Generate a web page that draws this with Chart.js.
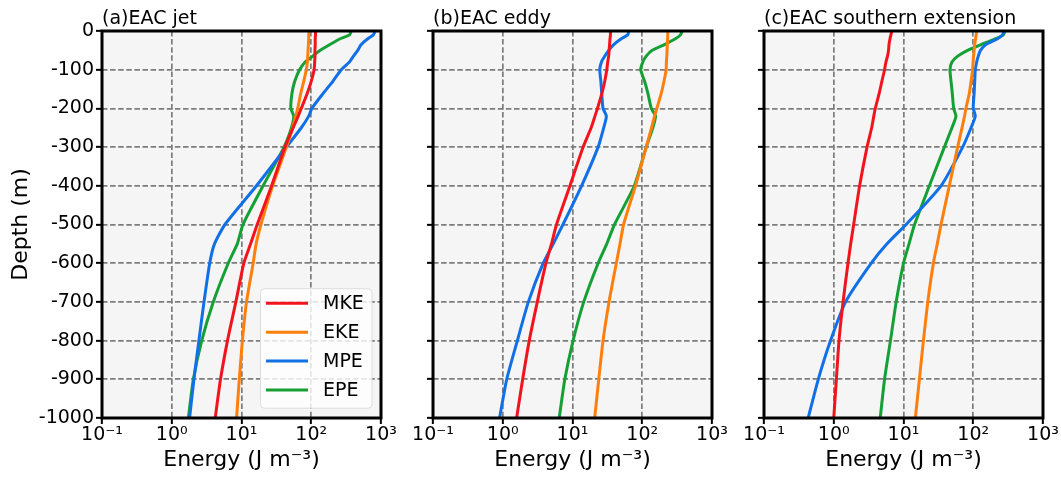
<!DOCTYPE html>
<html>
<head>
<meta charset="utf-8">
<script src="https://cdn.jsdelivr.net/npm/chart.js@4/dist/chart.umd.min.js"></script>
<style>
  body { margin: 0; background: #fff; }
  #wrap { position: relative; width: 1061px; height: 480px; }
  #wrap canvas { position: absolute; left: 0; top: 0; }
</style>
</head>
<body>
<div id="wrap">
  <canvas id="jetChart" width="1061" height="480"></canvas>
  <canvas id="eddyChart" width="1061" height="480"></canvas>
  <canvas id="extChart" width="1061" height="480"></canvas>
</div>
<script>
// Depth levels (m) shared by every profile
const depth = [0, -10, -20, -35, -50, -65, -80, -100, -130, -160, -200, -220, -250, -300, -400, -500, -550, -600, -700, -800, -900, -1000];

// (a) EAC jet
const jetMKE = [115, 115, 114, 114, 113, 113, 112, 110, 100, 88, 72, 65, 55, 42, 27, 16.8, 13.5, 10.8, 8.3, 6.3, 5.0, 4.2];
const jetEKE = [93, 92, 92, 91, 90, 89, 88, 85, 78, 71, 64, 60, 54, 44, 28, 19, 16.2, 14.7, 11.8, 10.3, 9.3, 8.5];
const jetMPE = [830, 776, 646, 520, 464, 403, 353, 269, 204, 150, 102, 92, 72, 44, 16.4, 5.8, 4.1, 3.5, 2.9, 2.45, 2.08, 1.8];
const jetEPE = [372, 355, 260, 185, 135, 105, 82, 68, 58, 53, 51, 56, 52, 40.7, 20.4, 10.5, 8.7, 6.45, 3.94, 2.69, 2.04, 1.73];

// (b) EAC eddy
const eddyMKE = [35, 35, 34.5, 34, 33.5, 33, 32, 31, 29, 26.5, 22.8, 21, 18.5, 14.2, 9.2, 5.9, 5.0, 4.16, 3.13, 2.4, 1.93, 1.58];
const eddyEKE = [233, 232, 231, 229, 227, 225, 222, 220, 205, 188, 162, 150, 136, 114, 80, 54, 48, 42.5, 33.4, 27.4, 23.8, 20.8];
const eddyMPE = [64, 62, 50, 39, 33, 29, 26, 24.6, 25.5, 26.2, 27.4, 30.6, 28, 23.3, 13.5, 7.3, 5.3, 3.8, 2.33, 1.62, 1.14, 0.9];
const eddyEPE = [373, 353, 299, 208, 139, 114, 102, 95, 108, 120, 135, 155, 142, 114, 77, 40, 31, 23.3, 14.5, 10.2, 7.76, 6.45];

// (c) EAC southern extension
const extMKE = [6.8, 6.6, 6.4, 6.2, 6.1, 5.9, 5.6, 5.35, 4.9, 4.5, 3.94, 3.75, 3.5, 3.0, 2.35, 1.93, 1.75, 1.6, 1.36, 1.19, 1.09, 1.0];
const extEKE = [112, 110, 108, 105, 103, 101, 99.5, 98, 93, 88, 78.5, 75, 69, 59.7, 45.4, 34.5, 30.5, 26.8, 22.3, 19.3, 16.9, 14.8];
const extMPE = [277, 262, 223, 152, 127, 118, 112, 107, 105, 103, 100, 107, 93, 70.5, 34.5, 10.9, 5.8, 3.45, 1.48, 0.9, 0.6, 0.43];
const extEPE = [286, 270, 210, 129, 83, 60, 49.5, 46.4, 48, 50, 52.4, 56.5, 49.5, 38.5, 23.5, 14.4, 12, 10, 7.85, 6.5, 5.35, 4.64];

const seriesNames = ['MKE', 'EKE', 'MPE', 'EPE'];
const seriesColors = ['#f2141c', '#ff7f0e', '#1270e6', '#15a035'];

const xTickValues = [0.1, 1, 10, 100, 1000];
const xTickLabels = ['10⁻¹', '10⁰', '10¹', '10²', '10³'];

const FONT = 'DejaVu Sans';
const W = 1061;

// grey plot face, black frame and the boxed legend inside panel (a)
const axesBox = {
    id: 'axesBox',
    beforeDraw(chart) {
        const a = chart.chartArea;
        const ctx = chart.ctx;
        ctx.save();
        ctx.fillStyle = '#f5f5f5';
        ctx.fillRect(a.left, a.top, a.right - a.left, a.bottom - a.top);
        ctx.restore();
    },
    afterDraw(chart, args, opts) {
        const a = chart.chartArea;
        const ctx = chart.ctx;
        ctx.save();
        if (opts.legend) {
            const bx = a.right - 120.5, by = a.bottom - 129.3, bw = 111.5, bh = 119.5, r = 4;
            ctx.beginPath();
            ctx.moveTo(bx + r, by);
            ctx.arcTo(bx + bw, by, bx + bw, by + bh, r);
            ctx.arcTo(bx + bw, by + bh, bx, by + bh, r);
            ctx.arcTo(bx, by + bh, bx, by, r);
            ctx.arcTo(bx, by, bx + bw, by, r);
            ctx.closePath();
            ctx.fillStyle = 'rgba(255,255,255,0.8)';
            ctx.fill();
            ctx.strokeStyle = '#dddddd';
            ctx.lineWidth = 1;
            ctx.stroke();
            ctx.font = '19px "' + FONT + '"';
            ctx.textBaseline = 'middle';
            ctx.fillStyle = '#000';
            chart.data.datasets.forEach((ds, k) => {
                const y = by + 14.6 + k * 28.9;
                ctx.beginPath();
                ctx.moveTo(bx + 5.5, y);
                ctx.lineTo(bx + 47.5, y);
                ctx.strokeStyle = ds.borderColor;
                ctx.lineWidth = 3;
                ctx.stroke();
                ctx.fillText(ds.label, bx + 62.5, y + 1);
            });
        }
        ctx.strokeStyle = '#000';
        ctx.lineWidth = 3;
        ctx.strokeRect(a.left, a.top, a.right - a.left, a.bottom - a.top);
        ctx.restore();
    }
};

function makePanel(canvasId, title, series, left, right, firstPanel) {
    const ctx = document.getElementById(canvasId).getContext('2d');
    const gridOpts = { color: '#7c7c7c', lineWidth: 1.7, tickColor: '#000', tickWidth: 2, tickLength: 6 };
    const borderOpts = { display: false, dash: [5.5, 2.6] };
    return new Chart(ctx, {
        type: 'scatter',
        data: {
            datasets: series.map((vals, k) => ({
                label: seriesNames[k],
                data: depth.map((d, i) => ({ x: vals[i], y: d })),
                showLine: true,
                borderColor: seriesColors[k],
                borderWidth: 3,
                pointRadius: 0,
                tension: 0.2,
                fill: false
            }))
        },
        options: {
            responsive: false,
            animation: false,
            events: [],
            layout: { padding: { left: 0, right: W - right, top: 0, bottom: 0 } },
            plugins: {
                legend: { display: false },
                tooltip: { enabled: false },
                title: {
                    display: true, text: title, align: 'start', fullSize: false, color: '#000',
                    font: { family: FONT, size: 19, weight: 'normal' },
                    padding: { top: 8, bottom: 0.2 }
                },
                axesBox: { legend: firstPanel }
            },
            scales: {
                x: {
                    type: 'logarithmic', position: 'bottom', min: 0.1, max: 1000,
                    afterBuildTicks: s => { s.ticks = xTickValues.map(v => ({ value: v })); },
                    afterFit: s => { s.height = 62; },
                    ticks: {
                        callback: v => xTickLabels[xTickValues.indexOf(v)],
                        color: '#000', font: { family: FONT, size: 19 },
                        padding: 0, autoSkip: false, maxRotation: 0
                    },
                    grid: gridOpts,
                    border: borderOpts,
                    title: {
                        display: true, text: 'Energy (J m⁻³)', color: '#000',
                        font: { family: FONT, size: 22 }, padding: { top: 0, bottom: 7 }
                    }
                },
                y: {
                    min: -1000, max: 0,
                    afterFit: s => { s.width = left; },
                    ticks: {
                        stepSize: 100, display: firstPanel, callback: v => String(v),
                        color: '#000', font: { family: FONT, size: 19 },
                        padding: 2, autoSkip: false
                    },
                    grid: gridOpts,
                    border: borderOpts,
                    title: {
                        display: firstPanel, text: 'Depth (m)', color: '#000',
                        font: { family: FONT, size: 22 }, padding: { top: 8, bottom: 0 }
                    }
                }
            }
        },
        plugins: [axesBox]
    });
}

makePanel('jetChart', '(a)EAC jet', [jetMKE, jetEKE, jetMPE, jetEPE], 102, 381, true);
makePanel('eddyChart', '(b)EAC eddy', [eddyMKE, eddyEKE, eddyMPE, eddyEPE], 433, 712, false);
makePanel('extChart', '(c)EAC southern extension', [extMKE, extEKE, extMPE, extEPE], 764, 1043, false);
</script>
</body>
</html>
